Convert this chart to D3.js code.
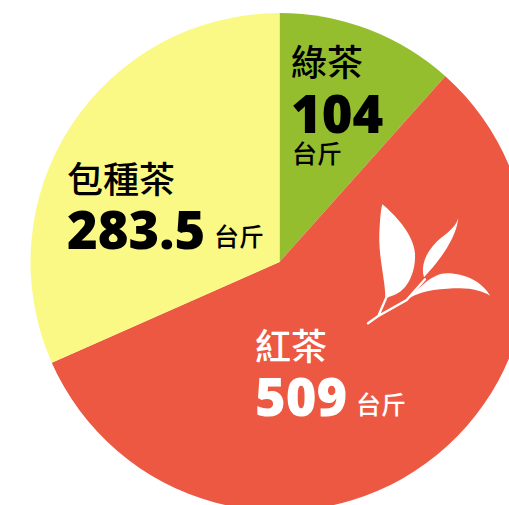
<!DOCTYPE html>
<html>
<head>
<meta charset="utf-8">
<script src="https://cdn.jsdelivr.net/npm/d3@7"></script>
<style>
html, body { margin: 0; padding: 0; background: #fff; overflow: hidden; }
text { font-family: "Noto Sans CJK TC", "Noto Sans", sans-serif; font-weight: 500; }
.num { font-family: "Open Sans", "Noto Sans", sans-serif; font-weight: 800; }
</style>
</head>
<body>
<div id="chart"></div>
<script>
const categories = ["綠茶", "紅茶", "包種茶"];
const values = [104, 509, 283.5];
const unit = "台斤";
const colors = ["#95be2f", "#ec5842", "#fbf985"];

const width = 509, height = 505;
const cx = 279.5, cy = 262, radius = 249;

const svg = d3.select("#chart").append("svg")
  .attr("width", width)
  .attr("height", height)
  .style("display", "block");

// pie starts at 12 o'clock and goes clockwise in data order
const pie = d3.pie().sort(null).value(d => d)(values);
const arc = d3.arc().innerRadius(0).outerRadius(radius);

svg.append("g")
  .attr("transform", `translate(${cx}, ${cy})`)
  .selectAll("path")
  .data(pie)
  .join("path")
  .attr("d", arc)
  .attr("fill", (d, i) => colors[i]);

// labels: name, number, unit
const labels = [
  {i: 0, x: 291, nameY: 76, numY: 133, numSize: 52.5, unitX: 292, unitY: 163, fill: "#000", nameSize: 36, unitSize: 25},
  {i: 1, x: 255, nameY: 360, numY: 416, numSize: 52.5, unitX: 356, unitY: 414, fill: "#fff", nameSize: 36, unitSize: 25},
  {i: 2, x: 67, nameY: 193, numY: 249, numSize: 52.5, unitX: 214, unitY: 246, fill: "#000", nameSize: 36, unitSize: 25}
];

labels.forEach(l => {
  svg.append("text").attr("x", l.x).attr("y", l.nameY)
    .attr("font-size", l.nameSize).attr("fill", l.fill)
    .text(categories[l.i]);
  svg.append("text").attr("class", "num").attr("x", l.x).attr("y", l.numY)
    .attr("font-size", l.numSize).attr("fill", l.fill)
    .text(values[l.i]);
  svg.append("text").attr("x", l.unitX).attr("y", l.unitY)
    .attr("font-size", l.unitSize).attr("fill", l.fill)
    .text(unit);
});

// tea leaf icon on the red slice
const leaf = svg.append("g")
  .attr("transform", "translate(350, 190) scale(0.3333)")
  .attr("fill", "#fff");
leaf.append("path").attr("d", "M97,43 C130,70 190,130 195,190 C198,250 170,310 118,320 L106,327 C108,280 85,200 88,130 C90,90 92,60 97,43 Z");
leaf.append("path").attr("d", "M325,85 C320,130 290,190 222,262 C212,230 225,190 260,155 C290,130 315,115 325,85 Z");
leaf.append("path").attr("d", "M420,317 C400,280 350,250 290,250 C250,250 210,290 178,324 C220,300 280,295 330,295 C370,295 400,305 420,317 Z");
leaf.append("path").attr("d", "M54,400 L85,378 L108,325 M85,378 L170,330 L225,268")
  .attr("fill", "none").attr("stroke", "#fff").attr("stroke-width", 7).attr("stroke-linecap", "round");
</script>
</body>
</html>
